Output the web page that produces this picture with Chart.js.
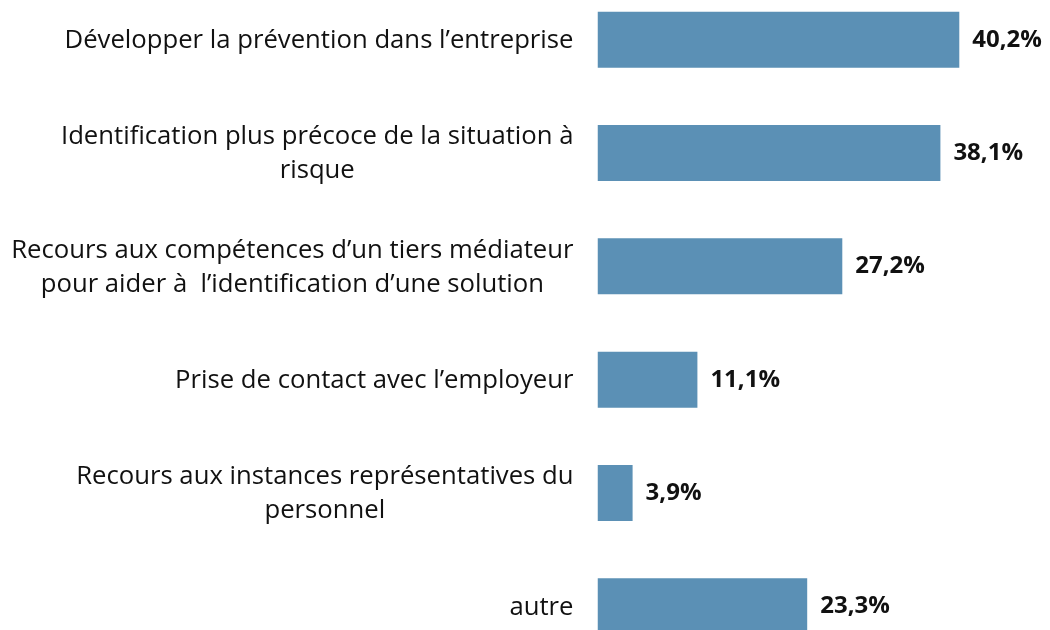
<!DOCTYPE html>
<html>
<head>
<meta charset="utf-8">
<script src="https://cdn.jsdelivr.net/npm/chart.js@4/dist/chart.umd.min.js"></script>
<style>
  html, body { margin: 0; padding: 0; background: #ffffff; overflow: hidden; width: 1050px; height: 630px; }
  #wrap { position: absolute; left: 0; top: -17px; width: 1050px; height: 680px; }
</style>
</head>
<body>
<div id="wrap"><canvas id="c"></canvas></div>
<script>
const categories = [
  ["Développer la prévention dans l’entreprise"],
  ["Identification plus précoce de la situation à", "risque"],
  ["Recours aux compétences d’un tiers médiateur", "pour aider à  l’identification d’une solution"],
  ["Prise de contact avec l’employeur"],
  ["Recours aux instances représentatives du", "personnel"],
  ["autre"]
];
const values = [40.2, 38.1, 27.2, 11.1, 3.9, 23.3];
const valueLabels = ["40,2%", "38,1%", "27,2%", "11,1%", "3,9%", "23,3%"];

const FONT = "'Open Sans', Lato, 'Liberation Sans', sans-serif";

// Category labels: each block right-aligned to the axis, lines centred within the block
const categoryLabelPlugin = {
  id: 'categoryLabels',
  afterDraw(chart) {
    const ctx = chart.ctx;
    const yScale = chart.scales.y;
    const rightEdge = yScale.right - 24;
    const lineH = 34;
    ctx.save();
    ctx.font = "25.7px " + FONT;
    ctx.fillStyle = "#111111";
    ctx.textAlign = "center";
    ctx.textBaseline = "middle";
    categories.forEach((lines, i) => {
      const yc = yScale.getPixelForValue(i) + 1;
      const widest = Math.max(...lines.map(l => ctx.measureText(l).width));
      const xc = rightEdge - widest / 2;
      lines.forEach((line, j) => {
        ctx.fillText(line, xc, yc + (j - (lines.length - 1) / 2) * lineH);
      });
    });
    ctx.restore();
  }
};

const valueLabelPlugin = {
  id: 'valueLabels',
  afterDatasetsDraw(chart) {
    const ctx = chart.ctx;
    const meta = chart.getDatasetMeta(0);
    ctx.save();
    ctx.font = "bold 24px " + FONT;
    ctx.fillStyle = "#111111";
    ctx.textAlign = "left";
    ctx.textBaseline = "middle";
    meta.data.forEach((bar, i) => {
      ctx.fillText(valueLabels[i], bar.x + 13, bar.y);
    });
    ctx.restore();
  }
};

new Chart(document.getElementById('c'), {
  type: 'bar',
  data: {
    labels: categories,
    datasets: [{
      data: values,
      backgroundColor: '#5b90b5',
      borderWidth: 0,
      categoryPercentage: 0.494,
      barPercentage: 1.0
    }]
  },
  options: {
    indexAxis: 'y',
    responsive: true,
    maintainAspectRatio: false,
    animation: false,
    layout: { padding: { left: 0, right: 2.5, top: 0, bottom: 0 } },
    plugins: { legend: { display: false }, tooltip: { enabled: false } },
    scales: {
      x: {
        display: false,
        min: 0,
        max: 50
      },
      y: {
        grid: { display: false, drawTicks: false },
        border: { display: false },
        ticks: { display: false },
        afterFit(scale) {
          scale.width = 597.5;
          scale.paddingTop = 0;
          scale.paddingBottom = 0;
        }
      }
    }
  },
  plugins: [valueLabelPlugin, categoryLabelPlugin]
});
</script>
</body>
</html>
